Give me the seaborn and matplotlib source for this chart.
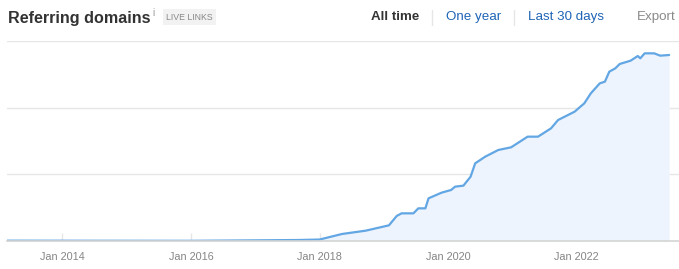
import matplotlib
matplotlib.use("Agg")
import matplotlib.pyplot as plt
import seaborn as sns
import pandas as pd

dates = ["2013-02-20", "2016-01-01", "2016-10-01", "2017-09-05", "2018-01-01",
         "2018-05-08", "2018-09-20", "2019-01-30", "2019-03-15", "2019-04-12",
         "2019-06-18", "2019-07-16", "2019-08-25", "2019-09-12", "2019-11-25",
         "2020-01-18", "2020-02-10", "2020-03-28", "2020-05-08", "2020-06-03",
         "2020-07-30", "2020-10-12", "2020-12-24", "2021-03-28", "2021-05-26",
         "2021-08-08", "2021-09-17", "2021-12-20", "2022-02-13", "2022-03-22",
         "2022-05-12", "2022-06-10", "2022-07-05", "2022-08-08", "2022-09-02",
         "2022-11-03", "2022-12-14", "2022-12-28", "2023-01-22", "2023-03-17",
         "2023-04-20", "2023-06-10"]
domains = [5, 3, 8, 15, 22,
           105, 155, 235, 375, 415,
           415, 490, 490, 640, 725,
           765, 815, 830, 965, 1165,
           1265, 1365, 1405, 1565, 1565,
           1690, 1815, 1940, 2065, 2215,
           2365, 2390, 2540, 2590, 2655,
           2705, 2775, 2740, 2815, 2815,
           2780, 2790]
tick_dates = ["2014-01-01", "2016-01-01", "2018-01-01", "2020-01-01", "2022-01-01"]
tick_labels = ["Jan 2014", "Jan 2016", "Jan 2018", "Jan 2020", "Jan 2022"]

df = pd.DataFrame({"date": pd.to_datetime(dates), "domains": domains})

sns.set_theme(style="white")
plt.rcParams['font.family'] = ['Liberation Sans', 'DejaVu Sans']

fig = plt.figure(figsize=(6.79, 2.69), dpi=100)
ax = fig.add_axes([7/679, 28/269, 672/679, 200/269])

line_c = "#62a6e3"
ax.fill_between(df["date"], df["domains"], 0, color="#eef4fd", lw=0)
sns.lineplot(data=df, x="date", y="domains", ax=ax, color=line_c, lw=1.6)

ax.set_xlim(pd.Timestamp("2013-02-20"), pd.Timestamp("2023-08-05"))
ax.set_ylim(0, 3000)
for yv in [1000, 2000, 3000]:
    ax.axhline(yv, color="#e6e6e6", lw=1, zorder=0)
ax.set_yticks([])
ax.set_xlabel("")
ax.set_ylabel("")
for s in ["top", "right", "left"]:
    ax.spines[s].set_visible(False)
ax.spines["bottom"].set_color("#d4d4d4")
ax.spines["bottom"].set_linewidth(1.2)

ax.set_xticks(pd.to_datetime(tick_dates))
ax.set_xticklabels(tick_labels, fontsize=7.8, color="#858585")
ax.tick_params(axis="x", direction="in", length=6, color="#e6e6e6", width=1, pad=8, bottom=True)

# Header texts
fig.text(8/679, 1 - 18/269, "Referring domains", fontsize=11.6, fontweight="bold",
         color="#333333", va="center", ha="left")
fig.text(152/679, 1 - 13/269, "i", fontsize=7, color="#999999", va="center", ha="left")
fig.text(166/679, 1 - 17/269, "LIVE LINKS", fontsize=6.3, color="#888888", va="center", ha="left",
         bbox=dict(boxstyle="square,pad=0.35", fc="#f2f2f2", ec="none"))

fig.text(371/679, 1 - 17/269, "All time", fontsize=9.6, fontweight="bold", color="#333333",
         va="center", ha="left")
fig.text(446/679, 1 - 17/269, "One year", fontsize=9.6, color="#1f64b5", va="center", ha="left")
fig.text(528/679, 1 - 17/269, "Last 30 days", fontsize=9.6, color="#1f64b5", va="center", ha="left")
fig.text(637/679, 1 - 17/269, "Export", fontsize=9.6, color="#8a8a8a", va="center", ha="left")
for xs in [432, 514]:
    fig.add_artist(plt.Line2D([xs/679, xs/679], [1 - 10/269, 1 - 25/269], color="#e6e6e6", lw=1))

fig.savefig("out.png", dpi=100)
